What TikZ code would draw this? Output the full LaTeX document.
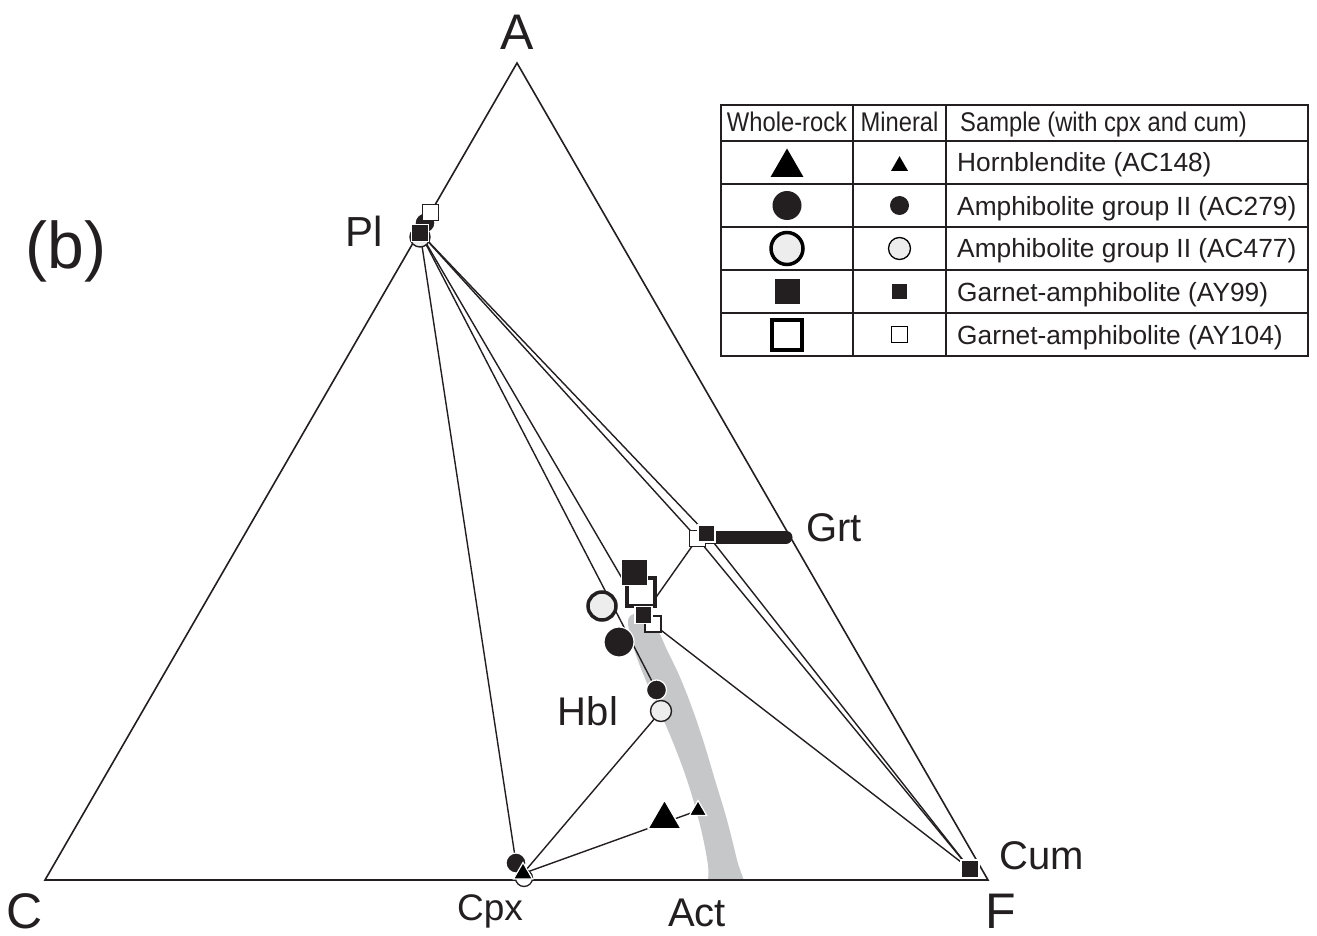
\documentclass[tikz,border=0pt]{standalone}
\usepackage{fontspec}
\usepackage{graphicx}
\setmainfont{Liberation Sans}
\usetikzlibrary{shapes.geometric}
\definecolor{ink}{HTML}{231F20}
\definecolor{lightfill}{HTML}{EDEDEE}
\definecolor{actgray}{HTML}{C6C7C9}
\tikzset{
  tie/.style={draw=ink, line width=1.4pt},
  edgeline/.style={draw=ink, line width=1.6pt},
  dsq/.style={rectangle, fill=ink, draw=white, line width=1.2pt, minimum size=#1, inner sep=0pt, outer sep=0pt},
  osq/.style={rectangle, fill=white, draw=ink, line width=1.5pt, minimum size=#1, inner sep=0pt, outer sep=0pt},
  dcirc/.style={circle, fill=ink, draw=white, line width=1.2pt, minimum size=#1, inner sep=0pt, outer sep=0pt},
  lcirc/.style={circle, fill=lightfill, draw=ink, line width=1.4pt, minimum size=#1, inner sep=0pt, outer sep=0pt},
  tri/.style={regular polygon, regular polygon sides=3, fill=black, draw=white, line width=1.2pt, minimum size=#1, inner sep=0pt, outer sep=0pt},
  lbl/.style={font=\fontsize{40}{40}\selectfont, text=ink, anchor=base, inner sep=0pt},
  corner/.style={font=\fontsize{50}{50}\selectfont, text=ink, anchor=base, inner sep=0pt},
  legtxt/.style={font=\fontsize{26.3}{26.3}\selectfont, text=ink, anchor=base west, inner sep=0pt},
  leghead/.style={font=\fontsize{27}{27}\selectfont, text=ink, anchor=base, inner sep=0pt},
  grid/.style={draw=ink, line width=1.5pt},
}
\begin{document}
\begin{tikzpicture}[x=1pt,y=-1pt]
\useasboundingbox (0,0) rectangle (1317,936);

% triangle corners
\coordinate (A) at (517,63);
\coordinate (C) at (45,880);
\coordinate (F) at (988,880);

% Pl cluster
\coordinate (plO) at (430.7,212.7);
\coordinate (plD) at (425,223);
\coordinate (plL) at (420,237);
\coordinate (plS) at (420,232.7);
% Grt
\coordinate (grtO) at (697.5,538.5);
\coordinate (grtD) at (706.5,533.5);
\coordinate (grtB) at (706.5,537);
\coordinate (grtE) at (786,537);
% whole rock
\coordinate (wrO) at (641,592);
\coordinate (wrD) at (634.5,572.5);
\coordinate (wrL) at (602,606);
\coordinate (wrC) at (619,642);
\coordinate (wrT) at (664.5,819.2);
% hornblende
\coordinate (hbD) at (643.5,615);
\coordinate (hbO) at (653,624);
\coordinate (hbC) at (656.5,690);
\coordinate (hbL) at (661,711);
\coordinate (hbT) at (698,810.5);
% clinopyroxene
\coordinate (cpC) at (516,863);
\coordinate (cpL) at (524,878);
\coordinate (cpT) at (523,873.5);
% cummingtonite
\coordinate (cum) at (970,869);

% actinolite band
\begin{scope}
\clip (0,0) rectangle (1317,880);
\fill[actgray] plot[smooth cycle, tension=0.6] coordinates {
  (628,622) (636,655) (652,695) (670,735) (687,780) (700,825) (708,865) (711,898)
  (746,898) (737,860) (727,820) (715,780) (703,740) (691,705) (679,675)
  (667,650) (657,628) (647,613) (636,613)};
\end{scope}

% triangle
\draw[edgeline, line join=miter] (A) -- (C) -- (F) -- cycle;

% tie lines
\draw[tie] (plS) -- (cpC);
\draw[tie] (plS) -- (hbC);
\draw[tie] (plS) -- (hbD);
\draw[tie] (plS) -- (grtO);
\draw[tie] (plS) -- (grtD);
\draw[tie] (grtO) -- (cum);
\draw[tie] (grtD) -- (cum);
\draw[tie] (grtO) -- (hbD);
\draw[tie] (hbO) -- (cum);
\draw[tie] (hbL) -- (cpT);
\draw[tie] (cpT) -- (hbT);

% garnet bar
\draw[draw=ink, line width=13pt, line cap=round] (grtB) -- (grtE);

% symbols: Pl
\node[dcirc=20] (nplD) at (plD) {};
\node[lcirc=20] (nplL) at (plL) {};
\node[dsq=17] (nplS) at (plS) {};
\node[osq=16] (nplO) at (plO) {};
% Grt
\node[osq=16] (ngrtO) at (grtO) {};
\node[dsq=17] (ngrtD) at (grtD) {};
% whole rock
\node[rectangle, fill=white, draw=ink, line width=3.5pt, minimum size=28pt, inner sep=0pt] (nwrO) at (wrO) {};
\node[dsq=26] (nwrD) at (wrD) {};
\node[circle, fill=lightfill, draw=ink, line width=3.5pt, minimum size=28pt, inner sep=0pt] (nwrL) at (wrL) {};
\node[dcirc=30] (nwrC) at (wrC) {};
% hornblende
\node[osq=16] (nhbO) at (hbO) {};
\node[dsq=17] (nhbD) at (hbD) {};
\node[dcirc=20] (nhbC) at (hbC) {};
\node[lcirc=21] (nhbL) at (hbL) {};
\node[tri=38] (nwrT) at (wrT) {};
\node[tri=20] (nhbT) at (hbT) {};
% clinopyroxene
\node[dcirc=20] (ncpC) at (cpC) {};
\node[circle, fill=white, draw=ink, line width=1.3pt, minimum size=17pt, inner sep=0pt] (ncpL) at (cpL) {};
\node[tri=22] (ncpT) at (cpT) {};
% cummingtonite
\node[dsq=18] (ncum) at (cum) {};

% labels
\node[corner] (labA) at (517,50) {A};
\node[corner] (labC) at (25,928) {C};
\node[corner] (labF) at (1001,928) {F};
\node[font=\fontsize{66}{66}\selectfont, text=ink, anchor=base, inner sep=0pt] (labb) at (66,268) {(b)};
\node[lbl, font=\fontsize{42}{42}\selectfont] (labPl) at (364,247) {Pl};
\node[lbl] (labGrt) at (834,541) {Grt};
\node[lbl] (labCum) at (1042,869) {Cum};
\node[lbl, font=\fontsize{37}{37}\selectfont] (labCpx) at (490,920) {Cpx};
\node[lbl] (labAct) at (697,926) {Act};
\node[lbl] (labHbl) at (588,725) {Hbl};

% legend table
\draw[grid] (721,105) rectangle (1308,356);
\draw[grid] (721,141) -- (1308,141);
\draw[grid] (721,184) -- (1308,184);
\draw[grid] (721,227) -- (1308,227);
\draw[grid] (721,270) -- (1308,270);
\draw[grid] (721,313) -- (1308,313);
\draw[grid] (853,105) -- (853,356);
\draw[grid] (946,105) -- (946,356);

\node[leghead] (h1) at (787,132) {\scalebox{0.88}[1]{Whole-rock}};
\node[leghead] (h2) at (899.5,132) {\scalebox{0.88}[1]{Mineral}};
\node[leghead, anchor=base west] (h3) at (960,132) {\scalebox{0.88}[1]{Sample (with cpx and cum)}};

% legend symbols
\node[regular polygon, regular polygon sides=3, fill=black, minimum size=38pt, inner sep=0pt] (lg1a) at (787,167.5) {};
\node[regular polygon, regular polygon sides=3, fill=black, minimum size=19.6pt, inner sep=0pt] (lg1b) at (899.5,166) {};
\node[circle, fill=ink, minimum size=29pt, inner sep=0pt] (lg2a) at (787,205.5) {};
\node[circle, fill=ink, minimum size=19pt, inner sep=0pt] (lg2b) at (899.5,205.5) {};
\node[circle, fill=lightfill, draw=black, line width=3.5pt, minimum size=32pt, inner sep=0pt] (lg3a) at (787,248.5) {};
\node[circle, fill=lightfill, draw=black, line width=1.3pt, minimum size=22pt, inner sep=0pt] (lg3b) at (899.5,248.5) {};
\node[rectangle, fill=ink, minimum size=25pt, inner sep=0pt] (lg4a) at (787,291.5) {};
\node[rectangle, fill=ink, minimum size=15pt, inner sep=0pt] (lg4b) at (899.5,291.5) {};
\node[rectangle, fill=white, draw=black, line width=4pt, minimum size=30pt, inner sep=0pt] (lg5a) at (787,334.5) {};
\node[rectangle, fill=white, draw=black, line width=1.5pt, minimum size=16pt, inner sep=0pt] (lg5b) at (899.5,334.5) {};

\node[legtxt] (t1) at (957,172) {Hornblendite (AC148)};
\node[legtxt] (t2) at (957,215) {Amphibolite group II (AC279)};
\node[legtxt] (t3) at (957,258) {Amphibolite group II (AC477)};
\node[legtxt] (t4) at (957,301) {Garnet-amphibolite (AY99)};
\node[legtxt] (t5) at (957,344) {Garnet-amphibolite (AY104)};
\end{tikzpicture}
\end{document}
